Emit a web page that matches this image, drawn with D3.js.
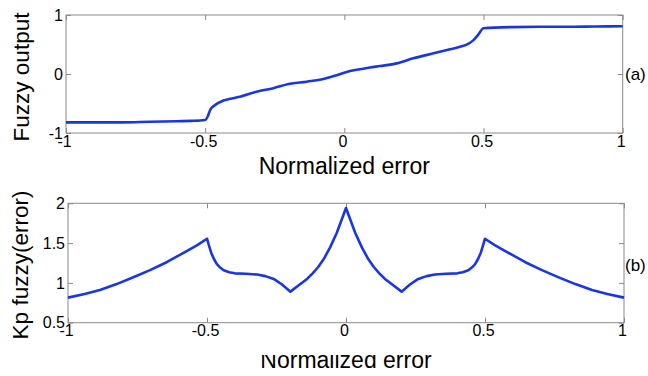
<!DOCTYPE html>
<html>
<head>
<meta charset="utf-8">
<script src="https://cdn.jsdelivr.net/npm/d3@7"></script>
<style>
  body { margin: 0; background: #fff; }
  svg { display: block; font-family: "Liberation Sans", Arial, sans-serif; }
</style>
</head>
<body>
<div id="chart"></div>
<script>
// (a) fuzzy output vs normalized error
var top_x = [-1, -0.9, -0.8, -0.7, -0.6, -0.55, -0.5, -0.49, -0.482, -0.464, -0.434, -0.4, -0.375, -0.315, -0.255, -0.2,
  -0.135, -0.075, -0.027, 0.02, 0.056, 0.092, 0.128, 0.188, 0.248, 0.32, 0.38, 0.416, 0.445, 0.463, 0.48, 0.5,
  0.6, 0.7, 0.8, 0.9, 1];
var top_y = [-0.82, -0.82, -0.82, -0.81, -0.8, -0.795, -0.78, -0.71, -0.61, -0.525, -0.45, -0.41, -0.385, -0.3, -0.24, -0.17,
  -0.13, -0.085, -0.02, 0.05, 0.08, 0.11, 0.135, 0.18, 0.265, 0.35, 0.42, 0.46, 0.51, 0.57, 0.66, 0.775,
  0.795, 0.8, 0.8, 0.805, 0.81];

// (b) Kp fuzzy gain vs normalized error
var bot_x = [-1, -0.94, -0.885, -0.825, -0.765, -0.705, -0.645, -0.573, -0.535, -0.5,
  -0.493, -0.485, -0.475, -0.465, -0.455, -0.44, -0.42, -0.4,
  -0.36, -0.32, -0.29, -0.26, -0.23, -0.2,
  -0.17, -0.14, -0.12, -0.1, -0.08, -0.058, -0.033, -0.015, 0,
  0.015, 0.033, 0.058, 0.08, 0.1, 0.12, 0.14, 0.17, 0.2,
  0.23, 0.26, 0.29, 0.32, 0.36, 0.4, 0.42, 0.44, 0.455, 0.465, 0.475, 0.485, 0.493, 0.5,
  0.535, 0.573, 0.645, 0.705, 0.765, 0.825, 0.885, 0.94, 1];
var bot_y = [0.815, 0.86, 0.91, 0.985, 1.07, 1.16, 1.26, 1.4, 1.475, 1.555,
  1.47, 1.38, 1.3, 1.24, 1.2, 1.16, 1.135, 1.12,
  1.115, 1.105, 1.085, 1.05, 0.98, 0.89,
  0.97, 1.05, 1.12, 1.2, 1.3, 1.44, 1.63, 1.8, 1.94,
  1.8, 1.63, 1.44, 1.3, 1.2, 1.12, 1.05, 0.97, 0.89,
  0.98, 1.05, 1.085, 1.105, 1.115, 1.12, 1.135, 1.16, 1.2, 1.24, 1.3, 1.38, 1.47, 1.555,
  1.475, 1.4, 1.26, 1.16, 1.07, 0.985, 0.91, 0.86, 0.815];

var x_ticks = [-1, -0.5, 0, 0.5, 1];
var top_y_ticks = [-1, 0, 1];
var bot_y_ticks = [0.5, 1, 1.5, 2];

var chart_width = 648;
var chart_height = 376;
var line_color = '#1a35e2';
var frame_color = '#8a8a8a';

var svg = d3.select('#chart')
  .append('svg')
  .attr('width', chart_width)
  .attr('height', chart_height);

function draw_panel(opts) {
  var x_scale = d3.scaleLinear().domain([-1, 1]).range([opts.left, opts.right]);
  var y_scale = d3.scaleLinear().domain(opts.y_domain).range([opts.bottom, opts.top]);
  var g = svg.append('g');

  // frame
  g.append('rect')
    .attr('x', opts.left).attr('y', opts.top)
    .attr('width', opts.right - opts.left).attr('height', opts.bottom - opts.top)
    .attr('fill', 'none').attr('stroke', frame_color).attr('stroke-width', 1);

  // axes with inward ticks
  var ax_b = g.append('g').attr('transform', 'translate(0,' + opts.bottom + ')')
    .call(d3.axisBottom(x_scale).tickValues(x_ticks).tickSize(-5).tickPadding(opts.x_pad)
      .tickFormat(function(d) { return d; }));
  var ax_t = g.append('g').attr('transform', 'translate(0,' + opts.top + ')')
    .call(d3.axisTop(x_scale).tickValues(x_ticks).tickSize(-5).tickFormat(''));
  var ax_l = g.append('g').attr('transform', 'translate(' + opts.left + ',0)')
    .call(d3.axisLeft(y_scale).tickValues(opts.y_ticks).tickSize(-5).tickPadding(3)
      .tickFormat(function(d) { return d; }));
  var ax_r = g.append('g').attr('transform', 'translate(' + opts.right + ',0)')
    .call(d3.axisRight(y_scale).tickValues(opts.y_ticks).tickSize(-5).tickFormat(''));

  [ax_b, ax_t, ax_l, ax_r].forEach(function(a) {
    a.select('.domain').remove();
    a.selectAll('line').attr('stroke', frame_color);
    a.selectAll('text')
      .attr('fill', '#000')
      .attr('font-size', 16)
      .attr('font-family', '"Liberation Sans", Arial, sans-serif');
  });
  ax_b.selectAll('text').attr('dx', -2);

  // curve
  var line = d3.line()
    .x(function(d) { return x_scale(d[0]); })
    .y(function(d) { return y_scale(d[1]); })
    .curve(opts.curve);

  g.append('path')
    .datum(d3.zip(opts.xs, opts.ys))
    .attr('d', line)
    .attr('fill', 'none')
    .attr('stroke', line_color)
    .attr('stroke-width', 2.6)
    .attr('stroke-linejoin', 'round');

  // y label
  g.append('text')
    .attr('transform', 'translate(' + opts.ylab_x + ',' + ((opts.top + opts.bottom) / 2 + opts.ylab_dy) + ') rotate(-90)')
    .attr('text-anchor', 'middle')
    .attr('font-size', 22.5)
    .text(opts.y_label);

  // x label
  var xl = g.append('text')
    .attr('x', (opts.left + opts.right) / 2)
    .attr('y', opts.xlab_y)
    .attr('text-anchor', 'middle')
    .attr('font-size', 23)
    .text('Normalized error');
  if (opts.clip_id) xl.attr('clip-path', 'url(#' + opts.clip_id + ')');

  // panel tag
  g.append('text')
    .attr('x', 625)
    .attr('y', y_scale(opts.tag_v))
    .attr('dy', '0.35em')
    .attr('font-size', 17)
    .text(opts.tag);
}

// the lower x label is cut at its top in the source picture
svg.append('clipPath').attr('id', 'cut')
  .append('rect').attr('x', 0).attr('y', 355).attr('width', chart_width).attr('height', 30);

draw_panel({
  left: 66, right: 622.7, top: 15, bottom: 133,
  y_domain: [-1, 1], y_ticks: top_y_ticks,
  xs: top_x, ys: top_y, x_pad: 3, curve: d3.curveMonotoneX,
  y_label: 'Fuzzy output', ylab_x: 29, ylab_dy: 3,
  xlab_y: 174, tag: '(a)', tag_v: 0
});

draw_panel({
  left: 68, right: 624, top: 203.3, bottom: 322.7,
  y_domain: [0.5, 2], y_ticks: bot_y_ticks,
  xs: bot_x, ys: bot_y, x_pad: 2, curve: d3.curveLinear,
  y_label: 'Kp fuzzy(error)', ylab_x: 28, ylab_dy: 2,
  xlab_y: 368, clip_id: 'cut', tag: '(b)', tag_v: 1.22
});
</script>
</body>
</html>
